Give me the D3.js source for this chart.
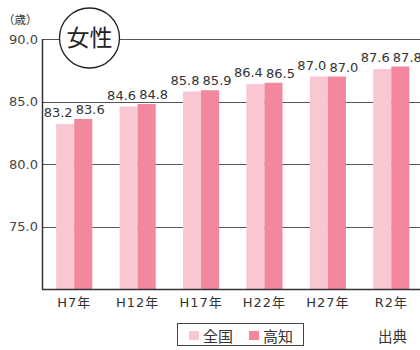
<!DOCTYPE html>
<html>
<head>
<meta charset="utf-8">
<script src="https://cdn.jsdelivr.net/npm/d3@7"></script>
<style>
  body { margin: 0; background: #fff; }
  svg { display: block; }
  text { font-family: "DejaVu Sans", "Noto Sans CJK JP", sans-serif; }
</style>
</head>
<body>
<div id="chart"></div>
<script>
// data
const years = ["H7年", "H12年", "H17年", "H22年", "H27年", "R2年"];
const national = [83.2, 84.6, 85.8, 86.4, 87.0, 87.6];
const kochi = [83.6, 84.8, 85.9, 86.5, 87.0, 87.8];
const yTicks = [75, 80, 85, 90];
const seriesNames = ["全国", "高知"];

const width = 420, height = 350;
const lightColor = "#f8c7d1", darkColor = "#f2879d";

const svg = d3.select("#chart").append("svg")
  .attr("width", width)
  .attr("height", height);

const x = d3.scaleBand()
  .domain(years)
  .range([42.5, 423])
  .paddingInner(0.43)
  .paddingOuter(0.215);

const y = d3.scaleLinear().domain([70, 90]).range([289, 39]);

// grid lines
svg.append("g").selectAll("line")
  .data(yTicks)
  .enter().append("line")
  .attr("x1", 42.5).attr("x2", width)
  .attr("y1", d => Math.round(y(d)) + 0.5)
  .attr("y2", d => Math.round(y(d)) + 0.5)
  .attr("stroke", "#555")
  .attr("stroke-width", 1);

// tick labels
svg.append("g").selectAll("text")
  .data(yTicks)
  .enter().append("text")
  .attr("x", 38)
  .attr("y", d => y(d))
  .attr("dy", "0.35em")
  .attr("text-anchor", "end")
  .attr("font-size", 13)
  .attr("fill", "#444")
  .text(d => d.toFixed(1));

// bars
const half = x.bandwidth() / 2;
const grp = svg.append("g").selectAll("g")
  .data(years)
  .enter().append("g")
  .attr("transform", d => "translate(" + x(d) + ",0)");

grp.append("rect")
  .attr("x", 0)
  .attr("y", (d, i) => y(national[i]))
  .attr("width", half)
  .attr("height", (d, i) => y(70) - y(national[i]))
  .attr("fill", lightColor);

grp.append("rect")
  .attr("x", half)
  .attr("y", (d, i) => y(kochi[i]))
  .attr("width", half)
  .attr("height", (d, i) => y(70) - y(kochi[i]))
  .attr("fill", darkColor);

grp.append("text")
  .attr("x", half / 2 - 7)
  .attr("y", (d, i) => y(national[i]) - 7)
  .attr("text-anchor", "middle")
  .attr("font-size", 13)
  .attr("fill", "#333")
  .text((d, i) => national[i].toFixed(1));

grp.append("text")
  .attr("x", half * 1.5 + 7)
  .attr("y", (d, i) => y(kochi[i]) - 5)
  .attr("text-anchor", "middle")
  .attr("font-size", 13)
  .attr("fill", "#333")
  .text((d, i) => kochi[i].toFixed(1));

// axes lines
svg.append("line")
  .attr("x1", 42.5).attr("x2", 42.5)
  .attr("y1", y(90)).attr("y2", y(70) + 0.5)
  .attr("stroke", "#333").attr("stroke-width", 1.5);
svg.append("line")
  .attr("x1", 42).attr("x2", width)
  .attr("y1", y(70) + 0.5).attr("y2", y(70) + 0.5)
  .attr("stroke", "#333").attr("stroke-width", 1.5);

// x labels
svg.append("g").selectAll("text")
  .data(years)
  .enter().append("text")
  .attr("x", d => x(d) + x.bandwidth() / 2)
  .attr("y", 307)
  .attr("text-anchor", "middle")
  .attr("font-size", 13)
  .attr("letter-spacing", 1)
  .attr("fill", "#333")
  .text(d => d);

// unit
svg.append("text")
  .attr("x", 3).attr("y", 24)
  .attr("font-size", 11.5)
  .attr("fill", "#333")
  .text("（歳）");

// title circle
svg.append("circle")
  .attr("cx", 89.5).attr("cy", 38).attr("r", 30)
  .attr("fill", "#fff")
  .attr("stroke", "#222")
  .attr("stroke-width", 1.3);
svg.append("text")
  .attr("x", 89.5).attr("y", 38)
  .attr("dy", "0.36em")
  .attr("text-anchor", "middle")
  .attr("font-size", 23)
  .attr("fill", "#222")
  .text("女性");

// legend
const legend = svg.append("g");
legend.append("rect")
  .attr("x", 177.5).attr("y", 323.5)
  .attr("width", 126).attr("height", 22)
  .attr("fill", "#fff")
  .attr("stroke", "#444");
const items = legend.selectAll("g")
  .data(seriesNames)
  .enter().append("g")
  .attr("transform", (d, i) => "translate(" + (189 + i * 60) + ",331)");
items.append("rect")
  .attr("width", 10).attr("height", 9)
  .attr("fill", (d, i) => i === 0 ? lightColor : darkColor);
items.append("text")
  .attr("x", 14).attr("y", 10.5)
  .attr("font-size", 15)
  .attr("fill", "#333")
  .text(d => d);

svg.append("text")
  .attr("x", 378).attr("y", 342)
  .attr("font-size", 14.5)
  .attr("fill", "#333")
  .text("出典");
</script>
</body>
</html>
